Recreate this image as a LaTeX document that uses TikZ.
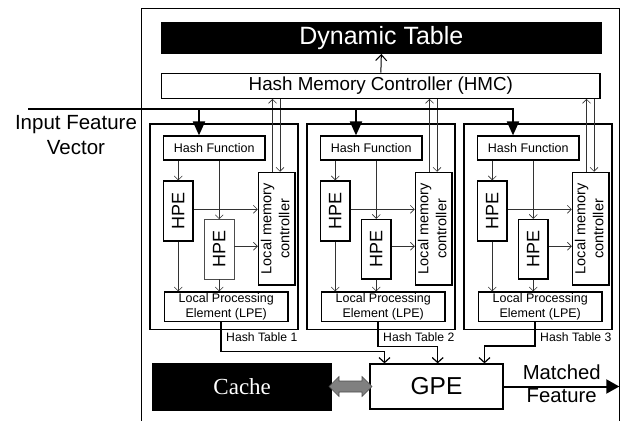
\documentclass[tikz,border=0pt]{standalone}
\usepackage{fontspec}
\usepackage{graphicx}
\setmainfont{Liberation Sans}
\newfontfamily\cachefont{Liberation Serif}
\usetikzlibrary{arrows.meta}
\newcommand{\myfs}[2]{\fontsize{#1}{#2}\selectfont}
\begin{document}
\begin{tikzpicture}[x=1pt,y=-1pt,
  box/.style={draw, line width=1.3pt, inner sep=0pt, align=center},
  tarrow/.style={line width=0.6pt, draw=black!80, -{Straight Barb[length=4pt,width=8pt]}},
  inarrow/.style={line width=2pt, -{Triangle[length=14pt,width=12pt]}},
  route/.style={line width=1.2pt, -{Straight Barb[length=5pt,width=11pt]}},
  lbl/.style={inner sep=0pt, align=center}
]
\useasboundingbox (0,0) rectangle (623,420);
% outer frame
\draw[line width=1.1pt] (141.7,422) -- (141.7,8.7) -- (619.3,8.7) -- (619.3,422);

\node[box, fill=black, text=white, minimum width=439.3pt, minimum height=30.6pt, font=\myfs{25}{28}] (dt) at (381.35,38) {Dynamic Table};
\node[box, line width=1.2pt, minimum width=438.3pt, minimum height=25pt, font=\myfs{18.8}{22}] (hmc) at (380.85,85.8) {Hash Memory Controller (HMC)};
\draw[line width=1pt, -{Straight Barb[length=6pt,width=11pt]}] (hmc.north) -- (dt.south);

\node[lbl, font=\myfs{20.5}{25}] (ifv) at (76,135.1) {Input Feature\\Vector};
\coordinate (inL) at (28,109.3);

\foreach \i/\L/\hw/\hc in {1/150/0.6pt/black!70,2/307/1.3pt/black,3/464/1.3pt/black}{
  \node[box, line width=1.4pt, minimum width=148pt, minimum height=205.5pt] (ht\i) at (\L+74,226.75) {};
  \node[box, line width=1.2pt, minimum width=101.5pt, minimum height=24pt, font=\myfs{12.5}{14}] (hf\i) at (\L+64.25,148) {Hash Function};
  \node[box, minimum width=29.5pt, minimum height=60pt, font=\myfs{18}{20}] (hpea\i) at (\L+28.25,211) {\rotatebox{90}{HPE}};
  \node[box, line width=\hw, draw=\hc, minimum width=29.5pt, minimum height=59.5pt, font=\myfs{18}{20}] (hpeb\i) at (\L+69.25,249.25) {\rotatebox{90}{HPE}};
  \node[box, line width=1.5pt, minimum width=36.5pt, minimum height=112.5pt, font=\myfs{14.5}{18}] (lmc\i) at (\L+126.75,228.75) {\rotatebox{90}{\begin{tabular}{@{}c@{}}Local memory\\controller\end{tabular}}};
  \node[box, line width=1.2pt, minimum width=123.5pt, minimum height=29.7pt, font=\myfs{12.5}{14.5}] (lpe\i) at (\L+76.25,306.85) {Local Processing\\Element (LPE)};
  \draw[tarrow] (hpea\i.north |- hf\i.south) -- (hpea\i.north);
  \draw[tarrow] (hpeb\i.north |- hf\i.south) -- (hpeb\i.north);
  \draw[tarrow] ([yshift=1.7pt]hpea\i.east) -- ([yshift=1.7pt]hpea\i.east -| lmc\i.west);
  \draw[tarrow] ([yshift=3pt]hpeb\i.east) -- ([yshift=3pt]hpeb\i.east -| lmc\i.west);
  \draw[tarrow] (hpea\i.south) -- (hpea\i.south |- lpe\i.north);
  \draw[tarrow] (hpeb\i.south) -- (hpeb\i.south |- lpe\i.north);
  \draw[tarrow] ([xshift=-4.25pt]lmc\i.north) -- ([xshift=-4.25pt]lmc\i.north |- hmc.south);
  \draw[tarrow] ([xshift=3.25pt]lmc\i.north |- hmc.south) -- ([xshift=3.25pt]lmc\i.north);
  \draw[inarrow] (inL) -| ([xshift=-15.25pt]hf\i.north);
  \coordinate (out\i) at ([xshift=-5.25pt]lpe\i.south);
  \node[anchor=base west, font=\myfs{12.2}{14}, inner sep=0pt] (lab\i) at (\L+76,341.5) {Hash Table \i};
}

\node[box, minimum width=133pt, minimum height=45pt, font=\myfs{24.5}{28}] (gpe) at (436.5,386.5) {GPE};
\node[box, fill=black, text=white, minimum width=179pt, minimum height=46.7pt, font=\cachefont\myfs{23}{26}] (cache) at (242.2,386.65) {Cache};

\coordinate (b1) at (0,351.7);
\coordinate (b2) at (0,346.5);
\coordinate (b3) at (0,346);
\draw[route] (out1) -- (out1 |- b1) -| ([xshift=-52pt]gpe.north);
\draw[route] (out2) -- (out2 |- b2) -| ([xshift=1.2pt]gpe.north);
\draw[route] (out3) -- (out3 |- b3) -| ([xshift=48pt]gpe.north);

% gray double arrow
\filldraw[fill=black!50, draw=black!70, line width=0.6pt]
  (329,386.5) -- (339,376.5) -- (339,381) -- (362,381) -- (362,376.5) -- (372,386.5)
  -- (362,396.5) -- (362,392) -- (339,392) -- (339,396.5) -- cycle;

\coordinate (mfend) at (619.3,386.5);
\draw[line width=2pt, -{Triangle[length=13pt,width=14pt]}] (gpe.east) -- (mfend);
\node[lbl, font=\myfs{20.3}{23}] (mf) at (561.7,384.2) {Matched\\Feature};
\end{tikzpicture}
\end{document}
